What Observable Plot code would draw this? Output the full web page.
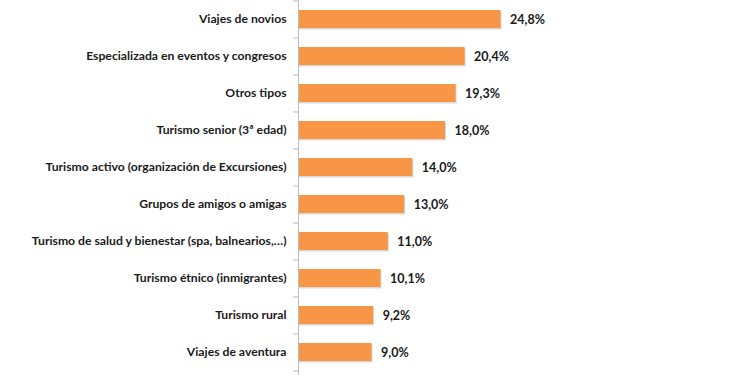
<!DOCTYPE html>
<html>
<head>
<meta charset="utf-8">
<script src="https://cdn.jsdelivr.net/npm/d3@7"></script>
<script src="https://cdn.jsdelivr.net/npm/@observablehq/plot@0.6"></script>
<style>
  html, body { margin: 0; padding: 0; background: #fff; }
  #chart svg { display: block; }
</style>
</head>
<body>
<div id="chart"></div>
<script>
const categories = [
  "Viajes de novios",
  "Especializada en eventos y congresos",
  "Otros tipos",
  "Turismo senior (3ª edad)",
  "Turismo activo (organización de Excursiones)",
  "Grupos de amigos o amigas",
  "Turismo de salud y bienestar (spa, balnearios,…)",
  "Turismo étnico (inmigrantes)",
  "Turismo rural",
  "Viajes de aventura"
];
const values = [24.8, 20.4, 19.3, 18.0, 14.0, 13.0, 11.0, 10.1, 9.2, 9.0];
const valueLabels = ["24,8%", "20,4%", "19,3%", "18,0%", "14,0%", "13,0%", "11,0%", "10,1%", "9,2%", "9,0%"];

const data = categories.map((c, i) => ({cat: c, v: values[i], label: valueLabels[i]}));
const font = "Lato, 'Open Sans', sans-serif";
const bw = 37;

const plot = Plot.plot({
  width: 750,
  height: 375,
  marginTop: 0,
  marginBottom: 5,
  marginLeft: 298,
  marginRight: 207,
  style: {fontFamily: font, fontSize: "12px", fontWeight: "bold", color: "#262626", background: "#fff"},
  x: {domain: [0, 30], axis: null},
  y: {domain: categories, paddingInner: 0.52, paddingOuter: 0.26, label: null, axis: null},
  marks: [
    Plot.axisY({tickSize: 0, tickPadding: 12, fontWeight: "bold", fontSize: 12.2, fill: "#1a1a1a", label: null}),
    Plot.barX(data, {x: "v", y: "cat", fill: "#bfbfbf", fillOpacity: 0.6, dx: 1, dy: 1.5}),
    Plot.barX(data, {x: "v", y: "cat", fill: "#F79646"}),
    Plot.ruleX([0], {stroke: "#bcbcbc", strokeWidth: 1, insetBottom: -5}),
    Plot.ruleY(data, {y: "cat", x1: 0, x2: 0, insetLeft: -5, stroke: "#bcbcbc", dy: -bw / 2}),
    Plot.ruleY(data.slice(-1), {y: "cat", x1: 0, x2: 0, insetLeft: -5, stroke: "#bcbcbc", dy: bw / 2}),
    Plot.text(data, {x: "v", y: "cat", text: "label", textAnchor: "start", dx: 9, fontWeight: "bold", fontSize: 12.5, fill: "#1a1a1a"})
  ]
});
document.getElementById("chart").appendChild(plot);
</script>
</body>
</html>
